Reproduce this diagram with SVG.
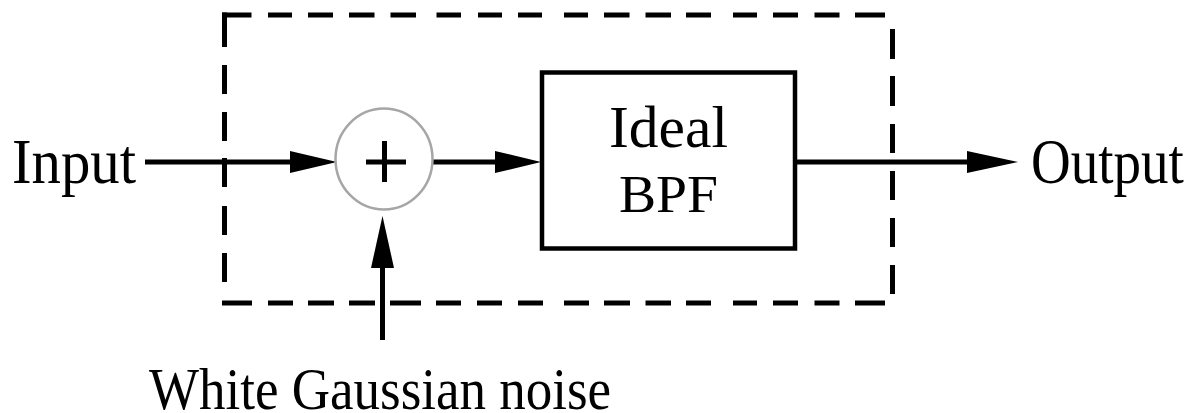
<svg xmlns="http://www.w3.org/2000/svg" width="1187" height="413" viewBox="0 0 1187 413">
  <style>
    .lbl { font-family: "Liberation Serif", "Times New Roman", serif; fill: #000; }
    .ln { stroke: #000; stroke-width: 5; fill: none; }
    .dash { stroke: #000; stroke-width: 5; fill: none; stroke-linecap: butt; }
    .head { fill: #000; stroke: none; }
  </style>
  <rect width="1187" height="413" fill="#fff"/>

  <g id="boundary">
    <path class="dash" d="M222,15H251.5 M268,15H292 M308,15H333 M349,15H374.5 M390.5,15H416 M436.5,15H461 M478,15H502 M518,15H542 M564,15H588 M604,15H629.5 M645.5,15H671 M686,15H711 M733,15H757 M773,15H798 M814.5,15H839.5 M855,15H885"/>
    <path class="dash" d="M222,303H252 M268,303H293 M308,303H334 M349,303H375 M390,303H421 M436,303H461 M477,303H502 M518,303H543 M564,303H589 M604,303H630 M645.5,303H671 M686,303H711 M733,303H757 M773,303H798 M814.5,303H839.5 M855,303H885"/>
    <path class="dash" d="M224.5,12.5V47 M224.5,65V94 M224.5,112V141 M224.5,158V187 M224.5,206V235 M224.5,253V282"/>
    <path class="dash" d="M892.5,29V59 M892.5,76V106 M892.5,124V153 M892.5,171V200 M892.5,218V247 M892.5,265V294"/>
  </g>

  <g id="connectors">
    <path class="ln" d="M145,162H292"/>
    <polygon class="head" points="290,151 337,162 290,173"/>
    <path class="ln" d="M433,162H497"/>
    <polygon class="head" points="495,151 541,162 495,173"/>
    <path class="ln" d="M797,162H969"/>
    <polygon class="head" points="967,151 1018,162 967,173"/>
    <path class="ln" d="M382.5,340V266"/>
    <polygon class="head" points="371,268 382.5,216 394,268"/>
  </g>

  <g id="sum">
    <ellipse cx="384" cy="159" rx="48.5" ry="50.5" fill="none" stroke="#a6a6a6" stroke-width="2.5"/>
    <path class="ln" d="M366,162H406 M384.5,141V182"/>
  </g>

  <g id="bpf">
    <rect x="542" y="72.5" width="253" height="176" fill="none" stroke="#000" stroke-width="4.5"/>
    <text class="lbl" x="609" y="147" font-size="60" textLength="119" lengthAdjust="spacingAndGlyphs">Ideal</text>
    <text class="lbl" x="619" y="212" font-size="53" textLength="99" lengthAdjust="spacingAndGlyphs">BPF</text>
  </g>

  <g id="input">
    <text class="lbl" x="12" y="183" font-size="64" textLength="124" lengthAdjust="spacingAndGlyphs">Input</text>
  </g>

  <g id="output">
    <text class="lbl" transform="translate(1031,183) scale(1,1.16)" x="0" y="0" font-size="55">Output</text>
  </g>

  <g id="noise">
    <text class="lbl" transform="translate(149,409) scale(1,1.13)" x="0" y="0" font-size="53">White Gaussian noise</text>
  </g>
</svg>
